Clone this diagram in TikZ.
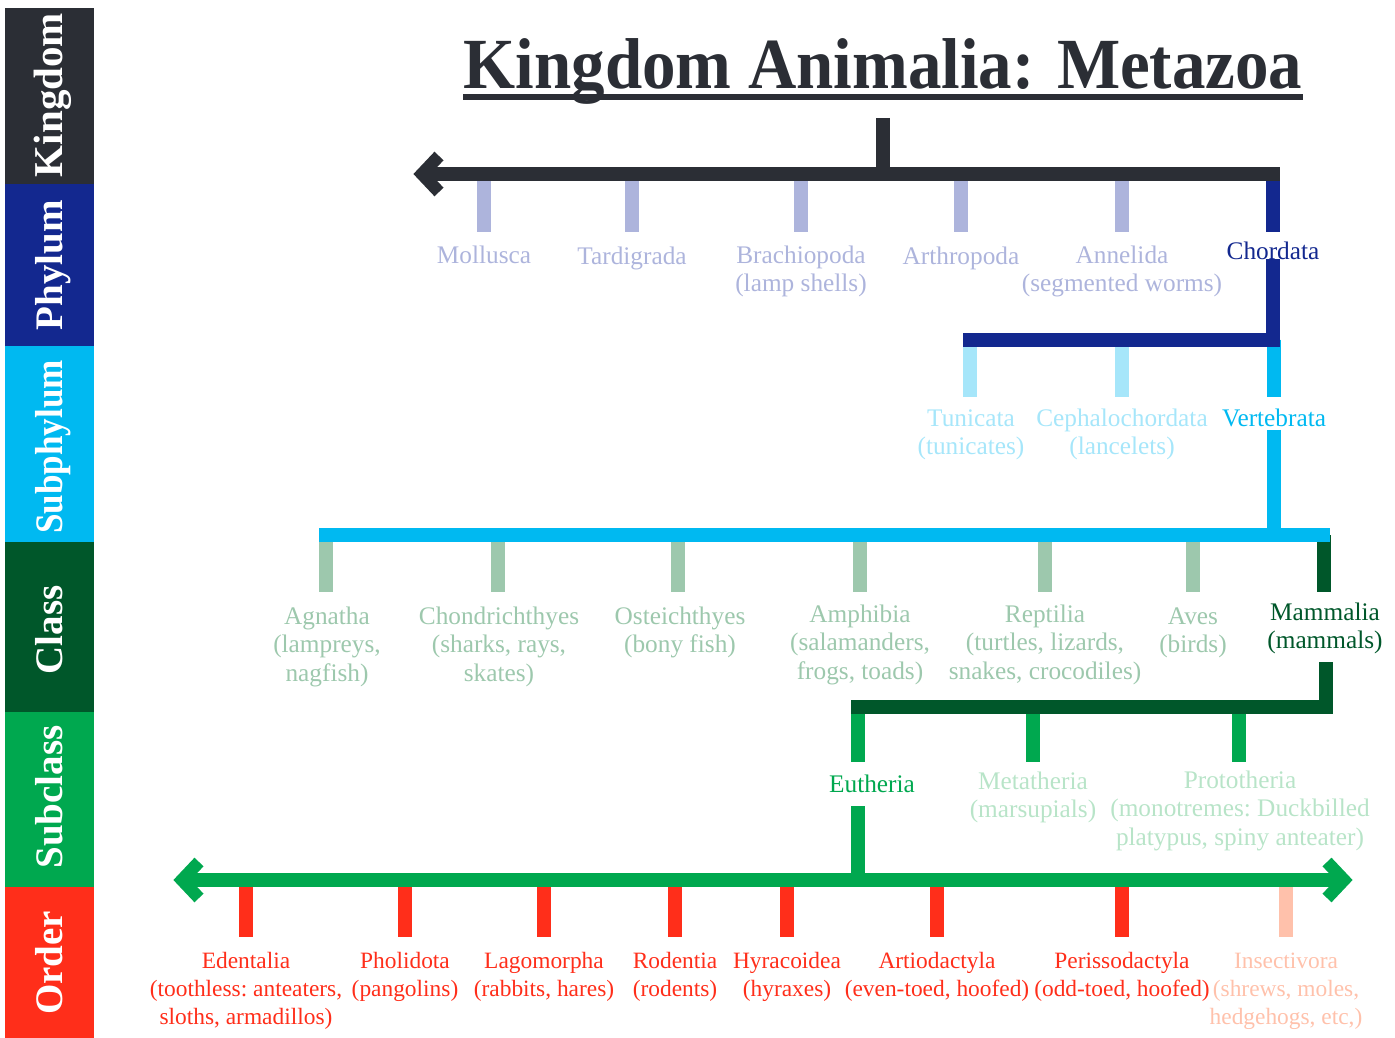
\documentclass[tikz,border=0pt]{standalone}
\usepackage{fontspec}
\setmainfont{Liberation Serif}
\definecolor{kdark}{HTML}{2B2E35}
\definecolor{phd}{HTML}{13288F}
\definecolor{phl}{HTML}{ADB4DC}
\definecolor{spd}{HTML}{00B9F1}
\definecolor{spl}{HTML}{A6E6FA}
\definecolor{cld}{HTML}{00572A}
\definecolor{cll}{HTML}{9DC8AD}
\definecolor{scd}{HTML}{00A84F}
\definecolor{scl}{HTML}{B8E4C8}
\definecolor{ord}{HTML}{FF2E1A}
\definecolor{orl}{HTML}{FFC1AB}
\begin{document}
\begin{tikzpicture}[x=1pt,y=-1pt,
  lbl/.style={font=\fontsize{25.3}{28.5}\selectfont\frenchspacing, align=center, anchor=base, inner sep=0pt},
  olbl/.style={lbl, font=\fontsize{23.4}{28}\selectfont\frenchspacing},
  bar/.style={line width=14pt},
  chev/.style={line width=12.5pt, line join=miter},
  side/.style={rotate=90, anchor=base, text=white, inner sep=0pt,
    font=\fontsize{39}{39}\selectfont\bfseries}]
\useasboundingbox (0,0) rectangle (1395,1038);

% ---- side column ----
\fill[kdark] (5,8) rectangle (94,184);
\fill[phd] (5,184) rectangle (94,346);
\fill[spd] (5,346) rectangle (94,542);
\fill[cld] (5,542) rectangle (94,712);
\fill[scd] (5,712) rectangle (94,887);
\fill[ord] (5,887) rectangle (94,1038);
\node[side, font=\fontsize{41}{41}\selectfont\bfseries] (sk) at (62,95) {Kingdom};
\node[side] (sp) at (62,265) {Phylum};
\node[side] (ss) at (62,447) {\scalebox{0.9}[1]{Subphylum}};
\node[side] (sc) at (62,630) {Class};
\node[side] (ssc) at (62,797) {Subclass};
\node[side] (so) at (62,963) {Order};

% ---- title ----
\node[anchor=base, inner sep=0pt, text=kdark, font=\fontsize{72}{72}\selectfont\bfseries]
  (title) at (883,89) {\scalebox{0.93}[1]{Kingdom Animalia: Metazoa}};
\draw[kdark, line width=5.5pt] ([yshift=-8pt]title.base west) -- ([yshift=-8pt]title.base east);

% ---- kingdom / phylum ----
\coordinate (kstem) at (883,118);
\coordinate (kleft) at (422,174);
\coordinate (kright) at (1280,174);
\node[lbl, text=phl] (moll) at (484,263) {Mollusca};
\node[lbl, text=phl] (tard) at (632,264) {Tardigrada};
\node[lbl, text=phl] (brach) at (801,291.5) {Brachiopoda\\(lamp shells)};
\node[lbl, text=phl] (arth) at (961,264) {Arthropoda};
\node[lbl, text=phl] (anne) at (1122,291.5) {Annelida\\(segmented worms)};
\node[lbl, text=phd] (chor) at (1273,259) {Chordata};
\foreach \n in {moll,tard,brach,arth,anne}
  \draw[phl, bar] (\n |- kright) -- ++(0,58);
\draw[phd, bar] (chor |- kright) -- ++(0,58);
\draw[kdark, bar] (kstem) -- (kstem |- kright);
\draw[kdark, bar] (kleft) -- (kright);
\draw[kdark, chev] (439,156) -- (kleft) -- (439,192);

% ---- subphylum ----
\coordinate (phL) at (963,339.5);
\coordinate (phR) at (1280,339.5);
\draw[phd, bar] (chor.south) -- (chor |- phR);
\node[lbl, text=spl] (tuni) at (971,454.5) {Tunicata\\(tunicates)};
\node[lbl, text=spl] (ceph) at (1122,454.5) {Cephalochordata\\(lancelets)};
\node[lbl, text=spd] (vert) at (1274,426) {Vertebrata};
\draw[spl, bar] (970,339.5) -- ++(0,57.5);
\draw[spl, bar] (ceph |- phR) -- ++(0,57.5);
\draw[spd, bar] (vert |- phR) -- ++(0,57.5);
\draw[phd, bar] (phL) -- (phR);

% ---- class ----
\coordinate (clL) at (319,535);
\coordinate (clR) at (1330,535);
\draw[spd, bar] ([yshift=-3pt]vert.south) -- (vert |- clR);
\node[lbl, text=cll] (agna) at (327,681) {Agnatha\\(lampreys,\\nagfish)};
\node[lbl, text=cll] (chon) at (499,681) {Chondrichthyes\\(sharks, rays,\\skates)};
\node[lbl, text=cll] (oste) at (680,652.5) {Osteichthyes\\(bony fish)};
\node[lbl, text=cll] (amph) at (860,679) {Amphibia\\(salamanders,\\frogs, toads)};
\node[lbl, text=cll] (rept) at (1045,679) {Reptilia\\(turtles, lizards,\\snakes, crocodiles)};
\node[lbl, text=cll] (aves) at (1193,652.5) {Aves\\(birds)};
\node[lbl, text=cld] (mamm) at (1325,648.5) {Mammalia\\(mammals)};
\draw[cll, bar] (326,535) -- ++(0,57);
\draw[cll, bar] (498,535) -- ++(0,57);
\draw[cll, bar] (678,535) -- ++(0,57);
\foreach \n in {amph,rept,aves}
  \draw[cll, bar] (\n |- clR) -- ++(0,57);
\coordinate (mtop) at (1324,535);
\draw[cld, bar] (mtop) -- ++(0,57);
\draw[spd, bar] (clL) -- (clR);

% ---- subclass ----
\coordinate (scL) at (851,707);
\coordinate (scR) at (1333,707);
\coordinate (mlow) at (1326,662);
\draw[cld, bar] (mlow) -- (mlow |- scR);
\node[lbl, text=scd] (euth) at (872,792) {Eutheria};
\node[lbl, text=scl] (meta) at (1033,817.5) {Metatheria\\(marsupials)};
\node[lbl, text=scl] (prot) at (1240,845) {Prototheria\\(monotremes: Duckbilled\\platypus, spiny anteater)};
\coordinate (eutop) at (858,707);
\draw[scd, bar] (eutop) -- ++(0,55);
\draw[scd, bar] (meta |- scR) -- ++(0,55);
\draw[scd, bar] (1239,707) -- ++(0,55);
\draw[cld, bar] (scL) -- (scR);

% ---- order ----
\coordinate (ordL) at (182,880);
\coordinate (ordR) at (1344,880);
\coordinate (eulow) at (858,806);
\node[olbl, text=ord] (eden) at (246,1024) {Edentalia\\(toothless: anteaters,\\sloths, armadillos)};
\node[olbl, text=ord] (phol) at (405,996) {Pholidota\\(pangolins)};
\node[olbl, text=ord] (lago) at (544,996) {Lagomorpha\\(rabbits, hares)};
\node[olbl, text=ord] (rode) at (675,996) {Rodentia\\(rodents)};
\node[olbl, text=ord] (hyra) at (787,996) {Hyracoidea\\(hyraxes)};
\node[olbl, text=ord] (arti) at (937,996) {Artiodactyla\\(even-toed, hoofed)};
\node[olbl, text=ord] (peri) at (1122,996) {Perissodactyla\\(odd-toed, hoofed)};
\node[olbl, text=orl] (inse) at (1286,1024) {Insectivora\\(shrews, moles,\\hedgehogs, etc,)};
\foreach \n in {eden,phol,lago,rode,hyra,arti,peri}
  \draw[ord, bar] (\n |- ordR) -- ++(0,57);
\draw[orl, bar] (inse |- ordR) -- ++(0,57);
\draw[scd, bar] (eulow) -- (eulow |- ordR);
\draw[scd, bar] (ordL) -- (ordR);
\draw[scd, chev] (199,862) -- (ordL) -- (199,898);
\draw[scd, chev] (1327,862) -- (ordR) -- (1327,898);
\end{tikzpicture}
\end{document}
